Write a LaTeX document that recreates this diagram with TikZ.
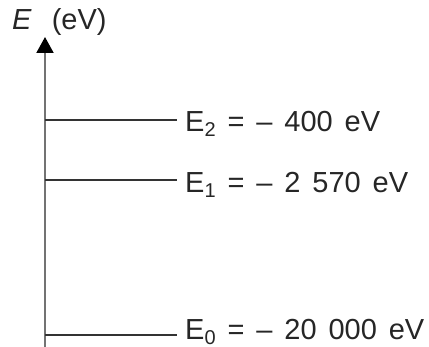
\documentclass[tikz,border=0pt]{standalone}
\usepackage{fontspec}
\setmainfont{Liberation Sans}
\usetikzlibrary{arrows.meta}
\newcommand{\sbs}[1]{\raisebox{-0.15em}{\fontsize{20}{20}\selectfont #1}}
\newcommand{\lblfont}{\fontsize{29}{34}\selectfont}
\newcommand{\wsp}{\hspace{11.9pt}}
\tikzset{
  lbl/.style={font=\lblfont, inner sep=0pt, anchor=base west, text=black!85},
  level/.style={line width=1.5pt, draw=black!80},
  axis/.style={line width=2pt, draw=black!55, -{Triangle[length=16pt,width=17pt,color=black]}}
}
\begin{document}
\begin{tikzpicture}[x=1pt,y=1pt]
\useasboundingbox (0,0) rectangle (429,-347);
\coordinate (ab) at (45,-347);
\coordinate (at) at (45,-37);
\draw[axis] (ab) -- (at);
\node[lbl] (ax) at (12,-30) {\textit{E}\hspace{20pt}(eV)};
\coordinate (l2) at (45,-120);
\coordinate (r2) at (177,-120);
\coordinate (l1) at (45,-180);
\coordinate (r1) at (177,-180);
\coordinate (l0) at (45,-335);
\coordinate (r0) at (177,-335);
\draw[level] (l2) -- (r2);
\draw[level] (l1) -- (r1);
\draw[level] (l0) -- (r0);
\node[lbl] (e2) at (185,-132) {E\sbs{2}\wsp=\wsp–\wsp400\wsp eV};
\node[lbl] (e1) at (185,-193) {E\sbs{1}\wsp=\wsp–\wsp2\wsp570\wsp eV};
\node[lbl] (e0) at (185,-340) {E\sbs{0}\wsp=\wsp–\wsp20\wsp000\wsp eV};
\end{tikzpicture}
\end{document}
